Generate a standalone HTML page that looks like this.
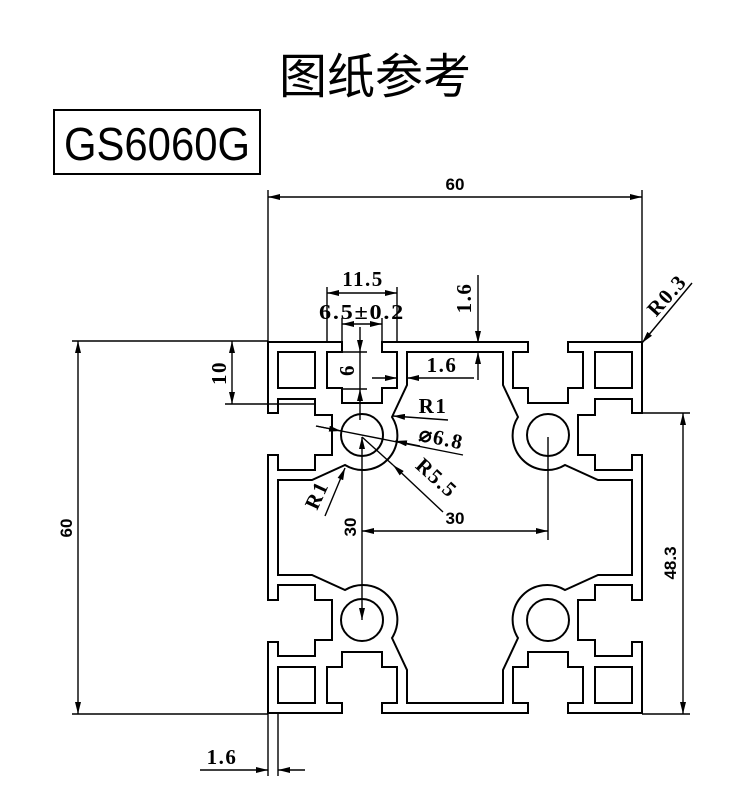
<!DOCTYPE html>
<html><head><meta charset="utf-8"><style>
html,body{margin:0;padding:0;background:#fff;}
svg{display:block;}
.p{fill:none;stroke:#000;stroke-width:2;stroke-linecap:square;}
.d{fill:none;stroke:#000;stroke-width:1.4;}
.t{font-family:"Liberation Serif",serif;font-weight:bold;font-size:21px;fill:#000;letter-spacing:1.5px;}
.s{font-family:"Liberation Sans",sans-serif;font-weight:bold;font-size:17px;fill:#000;}
</style></head><body>
<svg width="750" height="800" viewBox="0 0 750 800" xmlns="http://www.w3.org/2000/svg">
<defs>
<marker id="a" viewBox="0 0 12 6" refX="12" refY="3" markerWidth="12" markerHeight="6" markerUnits="userSpaceOnUse" orient="auto-start-reverse">
<path d="M0,0 L12,3 L0,6 z" fill="#000"/></marker>
<g id="q">
<path class="p" d="M268,528 V600 H278 V585 H315 V600 H332 V640 H315 V656 H278 V642 H268 V713 H342 V703 H327 V667 H342 V652 H382 V667 H397 V703 H382 V713 H455"/>
<path class="p" d="M455,703 H407 V670 L392,638 A34.5,34.5 0 0 0 345,590 L312,575 H278 V528"/>
<rect class="p" x="278" y="667" width="37" height="36"/>
<circle class="p" cx="362" cy="620" r="21"/>
</g>
</defs>
<text x="375" y="93" text-anchor="middle" font-family="'Noto Sans CJK SC',sans-serif" font-size="48" fill="#000">图纸参考</text>
<rect x="54" y="110" width="206" height="64" fill="none" stroke="#000" stroke-width="2"/>
<text x="64" y="160" font-family="'Liberation Sans','Noto Sans CJK SC',sans-serif" font-size="46" textLength="186" lengthAdjust="spacingAndGlyphs" fill="#000">GS6060G</text>

<use href="#q"/>
<use href="#q" transform="matrix(-1 0 0 1 910 0)"/>
<use href="#q" transform="matrix(1 0 0 -1 0 1055)"/>
<use href="#q" transform="matrix(-1 0 0 -1 910 1055)"/>

<!-- top 60 -->
<path class="d" d="M268,190 V341 M642,190 V341"/>
<line class="d" x1="268" y1="197" x2="642" y2="197" marker-start="url(#a)" marker-end="url(#a)"/>
<text class="s" x="455" y="190" text-anchor="middle">60</text>
<!-- left 60 -->
<path class="d" d="M72,341 H268 M72,714 H268"/>
<line class="d" x1="78" y1="341" x2="78" y2="714" marker-start="url(#a)" marker-end="url(#a)"/>
<text class="s" transform="translate(72,528) rotate(-90)" text-anchor="middle">60</text>
<!-- 10 -->
<path class="d" d="M225,404 H315"/>
<line class="d" x1="232" y1="341" x2="232" y2="404" marker-start="url(#a)" marker-end="url(#a)"/>
<text class="t" transform="translate(226,373) rotate(-90)" text-anchor="middle">10</text>
<!-- 48.3 -->
<path class="d" d="M642,413 H690 M642,714 H690"/>
<line class="d" x1="683" y1="413" x2="683" y2="714" marker-start="url(#a)" marker-end="url(#a)"/>
<text class="s" transform="translate(676,563) rotate(-90)" text-anchor="middle">48.3</text>
<!-- bottom 1.6 -->
<path class="d" d="M268,714 V776 M278,714 V776"/>
<line class="d" x1="200" y1="770" x2="268" y2="770" marker-end="url(#a)"/>
<line class="d" x1="305" y1="770" x2="278" y2="770" marker-end="url(#a)"/>
<text class="t" x="222" y="764" text-anchor="middle">1.6</text>
<!-- 11.5 -->
<path class="d" d="M327,287 V341 M397,287 V341"/>
<line class="d" x1="327" y1="293" x2="397" y2="293" marker-start="url(#a)" marker-end="url(#a)"/>
<text class="t" x="363" y="286" text-anchor="middle">11.5</text>
<!-- 6.5 -->
<path class="d" d="M342,318 V341 M382,318 V341"/>
<line class="d" x1="342" y1="324" x2="382" y2="324" marker-start="url(#a)" marker-end="url(#a)"/>
<text class="t" x="362" y="319" text-anchor="middle" textLength="86" lengthAdjust="spacingAndGlyphs">6.5±0.2</text>
<!-- 6 -->
<path class="d" d="M342,352 H367 M342,389 H367"/>
<line class="d" x1="360" y1="327" x2="360" y2="352" marker-end="url(#a)"/>
<line class="d" x1="360" y1="420" x2="360" y2="389" marker-end="url(#a)"/>
<line class="d" x1="360" y1="352" x2="360" y2="389"/>
<text class="t" transform="translate(354,370) rotate(-90)" text-anchor="middle">6</text>
<!-- 1.6 horizontal -->
<line class="d" x1="372" y1="378" x2="397" y2="378" marker-end="url(#a)"/>
<line class="d" x1="474" y1="378" x2="407" y2="378" marker-end="url(#a)"/>
<text class="t" x="442" y="372" text-anchor="middle">1.6</text>
<!-- 1.6 vertical -->
<line class="d" x1="478" y1="275" x2="478" y2="343" marker-end="url(#a)"/>
<line class="d" x1="478" y1="380" x2="478" y2="352" marker-end="url(#a)"/>
<text class="t" transform="translate(471,298) rotate(-90)" text-anchor="middle">1.6</text>
<!-- R0.3 -->
<line class="d" x1="692" y1="283" x2="642" y2="343" marker-end="url(#a)"/>
<text class="t" transform="translate(672,300) rotate(-48)" text-anchor="middle">R0.3</text>
<!-- 30 horizontal -->
<path class="d" d="M548,437 V540"/>
<line class="d" x1="362" y1="531" x2="548" y2="531" marker-start="url(#a)" marker-end="url(#a)"/>
<text class="s" x="455" y="524" text-anchor="middle" font-size="19">30</text>
<!-- 30 vertical -->
<line class="d" x1="362" y1="437" x2="362" y2="620" marker-start="url(#a)" marker-end="url(#a)"/>
<text class="s" transform="translate(356,527) rotate(-90)" text-anchor="middle" font-size="19">30</text>
<!-- R1 upper -->
<line class="d" x1="448" y1="420" x2="393" y2="416" marker-end="url(#a)"/>
<text class="t" x="433" y="413" text-anchor="middle">R1</text>
<!-- dia 6.8 -->
<line class="d" x1="316" y1="426" x2="463" y2="455"/>
<line class="d" x1="316" y1="426" x2="341" y2="431" marker-end="url(#a)"/>
<line class="d" x1="420" y1="446" x2="395" y2="441" marker-end="url(#a)"/>
<text class="t" transform="translate(440,445) rotate(12)" text-anchor="middle">⌀6.8</text>
<!-- R5.5 -->
<line class="d" x1="443" y1="512" x2="393" y2="465" marker-end="url(#a)"/>
<line class="d" x1="362" y1="437" x2="393" y2="465"/>
<text class="t" transform="translate(432,483) rotate(42)" text-anchor="middle">R5.5</text>
<!-- R1 lower -->
<line class="d" x1="325" y1="516" x2="345" y2="468" marker-end="url(#a)"/>
<text class="t" transform="translate(323,498) rotate(-65)" text-anchor="middle">R1</text>
</svg>
</body></html>
